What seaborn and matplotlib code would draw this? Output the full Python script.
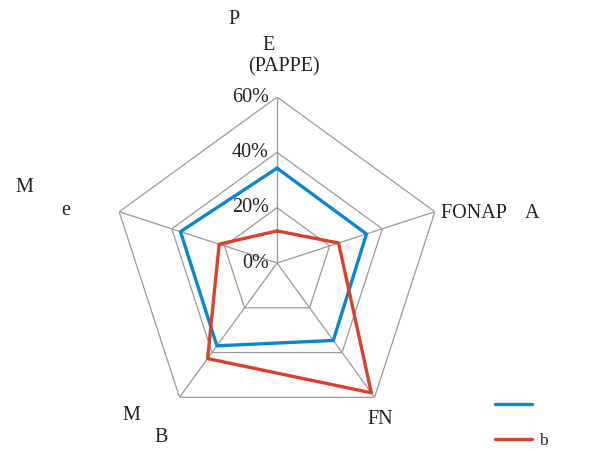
import numpy as np
import pandas as pd
import seaborn as sns
import matplotlib.pyplot as plt

# eixos do radar (sentido horario a partir do topo)
categories = ['(PAPPE)', 'FONAP    A', 'FN', 'B', 'e']
# fragmentos legiveis das primeiras linhas dos rotulos
label_heads = ['P', 'E', 'M', 'M']
series_names = ['', 'b']
blue_values = [34.3, 34.0, 34.6, 37.0, 36.7]
red_values = [11.6, 23.4, 58.0, 42.7, 22.0]
grid_levels = [0, 20, 40, 60]
grid_labels = ['0%', '20%', '40%', '60%']

colors = ['#0c86cc', '#d9412b']

sns.set_theme(style='white')
plt.rcParams['font.family'] = ['Liberation Serif', 'DejaVu Serif']

n = len(categories)
theta = np.linspace(0, 2 * np.pi, n, endpoint=False)
theta_closed = np.append(theta, theta[0])

rows = []
for name, vals in zip(series_names, [blue_values, red_values]):
    for t, v in zip(theta_closed, vals + vals[:1]):
        rows.append({'theta': t, 'value': v, 'serie': name})
df = pd.DataFrame(rows)

fig = plt.figure(figsize=(5.94, 4.51), dpi=100)
ax = fig.add_axes([0.1869, 0.0488, 0.559, 0.736], projection='polar')
ax.set_theta_offset(np.pi / 2)
ax.set_theta_direction(-1)
ax.set_ylim(0, 60)
ax.grid(False)
ax.spines['polar'].set_visible(False)
ax.set_xticks([])
ax.set_yticks([])
ax.set_facecolor('none')

# grade pentagonal
for lv in grid_levels[1:]:
    ax.plot(theta_closed, [lv] * (n + 1), color='#9a9a9a', lw=0.9, zorder=1)
for t in theta:
    ax.plot([t, t], [0, 60], color='#9a9a9a', lw=0.9, zorder=1)

for lv, lab in zip(grid_levels, grid_labels):
    ax.annotate(lab, xy=(0, lv), xytext=(-6, 0), textcoords='offset points',
                ha='right', va='center', fontsize=14.5, color='#222222')

sns.lineplot(data=df, x='theta', y='value', hue='serie', sort=False,
             estimator=None, palette=colors, linewidth=2.4, ax=ax, legend=False)
ax.set_xlabel('')
ax.set_ylabel('')

# rotulos das categorias (posicoes em pixels da figura)
W, H = 594, 451
def put(txt, x, y, ha='center'):
    fig.text(x / W, 1 - y / H, txt, ha=ha, va='center', fontsize=14.5,
             color='#222222')

put(label_heads[0], 234, 20)
put(label_heads[1], 269, 45)
put(categories[0], 284, 67)
put(categories[1], 441, 213, ha='left')
put(categories[2], 380, 420)
put(label_heads[3], 131, 416)
put(categories[3], 161, 437)
put(label_heads[2], 24, 188)
put(categories[4], 66, 211)

handles = [plt.Line2D([], [], color=c, lw=2.4) for c in colors]
fig.legend(handles, series_names, loc='upper left', bbox_to_anchor=(0.822, 0.134),
           frameon=False, fontsize=12.5, handlelength=2.14, labelspacing=1.1,
           borderaxespad=0, handletextpad=0.4)

plt.savefig('out.png', dpi=100)
